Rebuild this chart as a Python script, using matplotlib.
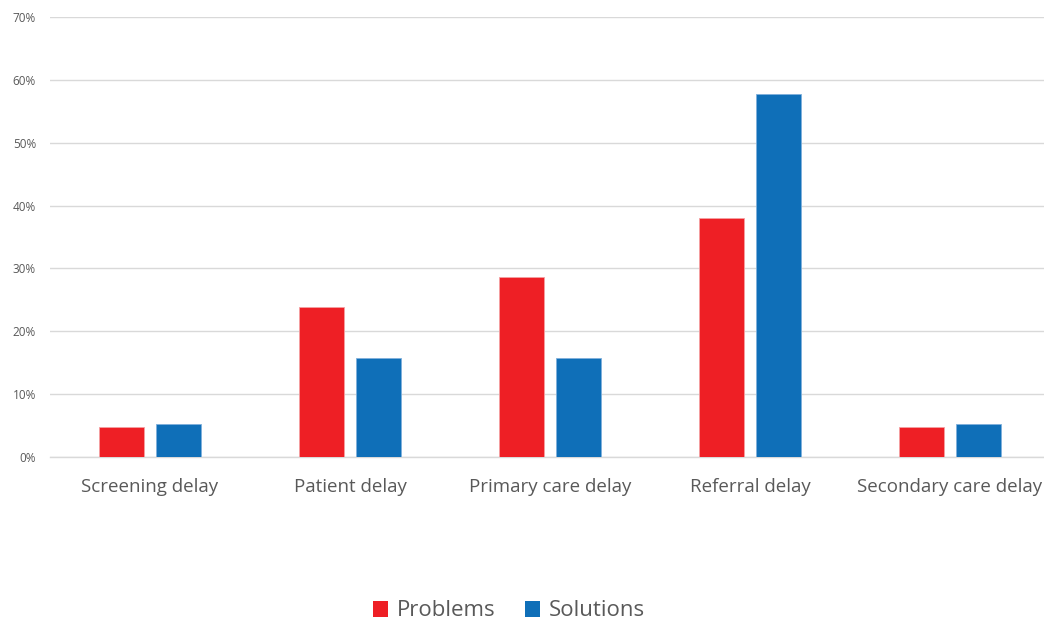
import matplotlib
matplotlib.use("Agg")
import matplotlib.pyplot as plt
from matplotlib.ticker import FuncFormatter, MultipleLocator
from matplotlib.patches import Patch
import numpy as np

categories = ["Screening delay", "Patient delay", "Primary care delay",
              "Referral delay", "Secondary care delay"]
problems = [4.8, 23.8, 28.6, 38.0, 4.8]
solutions = [5.2, 15.7, 15.7, 57.8, 5.2]
series_names = ["Problems", "Solutions"]
colors = ["#ee1f25", "#0f6fb8"]

plt.rcParams["font.family"] = ["Open Sans", "DejaVu Sans"]

W, H = 1044, 624
fig = plt.figure(figsize=(W / 100, H / 100), dpi=100)
ax = fig.add_axes([50 / W, (H - 457) / H, 1000 / W, 440 / H])

x = np.arange(len(categories))
width = 0.225
offset = 0.143
ax.bar(x - offset, problems, width, color=colors[0], edgecolor="#f4a0a2",
       linewidth=0.6, zorder=3)
ax.bar(x + offset, solutions, width, color=colors[1], edgecolor="#7fb0dc",
       linewidth=0.6, zorder=3)

ax.set_xlim(-0.5, len(categories) - 0.5)
ax.set_ylim(0, 70)
ax.yaxis.set_major_locator(MultipleLocator(10))
ax.yaxis.set_major_formatter(FuncFormatter(lambda v, p: f"{v:.0f}%"))
ax.grid(axis="y", color="#d9d9d9", linewidth=1.0, zorder=0)
ax.set_axisbelow(True)

for s in ["top", "right", "left"]:
    ax.spines[s].set_visible(False)
ax.spines["bottom"].set_color("#d9d9d9")
ax.spines["bottom"].set_linewidth(1.0)

ax.set_xticks(x)
ax.set_xticklabels(categories, fontsize=13.5, color="#595959")
ax.tick_params(axis="x", length=0, pad=15)
ax.tick_params(axis="y", length=0, labelsize=8.5, labelcolor="#595959", pad=10)

handles = [Patch(facecolor=c, edgecolor="none") for c in colors]
fig.legend(handles, series_names, loc="center", bbox_to_anchor=(509 / W, (H - 611) / H),
           ncol=2, frameon=False, fontsize=16, labelcolor="#595959",
           handlelength=0.7, handleheight=0.7, handletextpad=0.4, columnspacing=1.3)

fig.savefig("out.png", dpi=100)
